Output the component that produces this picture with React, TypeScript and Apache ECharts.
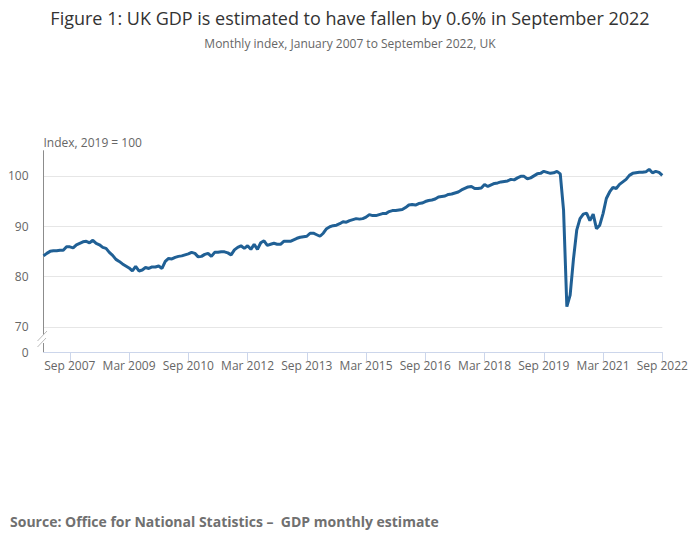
import React, { useEffect, useRef } from "react";
import * as echarts from "echarts";

const monthNames = ["Jan", "Feb", "Mar", "Apr", "May", "Jun", "Jul", "Aug", "Sep", "Oct", "Nov", "Dec"];
const startYear = 2007;

const gdp2007 = [84.1, 84.6, 85.0, 85.1, 85.1, 85.2, 85.2, 85.9, 85.9, 85.7, 86.3, 86.6];
const gdp2008 = [86.9, 87.0, 86.7, 87.2, 86.6, 86.3, 85.8, 85.6, 84.8, 84.2, 83.4, 83.0];
const gdp2009 = [82.5, 82.1, 81.7, 81.1, 82.0, 81.1, 81.3, 81.8, 81.6, 81.9, 81.9, 82.1];
const gdp2010 = [81.6, 83.0, 83.6, 83.5, 83.8, 84.0, 84.1, 84.3, 84.5, 84.8, 84.6, 83.9];
const gdp2011 = [84.0, 84.4, 84.6, 84.0, 84.8, 84.8, 84.9, 84.9, 84.7, 84.3, 85.3, 85.8];
const gdp2012 = [86.1, 85.6, 86.1, 85.4, 86.4, 85.4, 86.7, 87.1, 86.2, 86.4, 86.6, 86.4];
const gdp2013 = [86.4, 87.0, 87.0, 87.0, 87.3, 87.6, 87.8, 87.9, 88.0, 88.6, 88.6, 88.3];
const gdp2014 = [88.0, 88.6, 89.5, 89.9, 90.1, 90.2, 90.5, 90.9, 90.8, 91.1, 91.3, 91.5];
const gdp2015 = [91.4, 91.5, 91.8, 92.3, 92.1, 92.1, 92.3, 92.5, 92.5, 92.9, 93.1, 93.1];
const gdp2016 = [93.2, 93.3, 93.7, 94.2, 94.3, 94.2, 94.5, 94.6, 94.9, 95.1, 95.2, 95.4];
const gdp2017 = [95.8, 95.9, 96.0, 96.3, 96.4, 96.6, 96.8, 97.2, 97.5, 97.8, 97.9, 97.5];
const gdp2018 = [97.5, 97.6, 98.3, 97.9, 98.2, 98.5, 98.6, 98.8, 98.9, 99.0, 99.3, 99.2];
const gdp2019 = [99.6, 99.9, 99.9, 99.4, 99.6, 100.0, 100.4, 100.5, 100.9, 100.7, 100.5, 100.6];
const gdp2020 = [100.9, 100.4, 93.2, 74.0, 76.3, 83.4, 89.2, 91.5, 92.4, 92.6, 91.1, 92.4];
const gdp2021 = [89.5, 90.2, 92.5, 95.5, 96.8, 97.7, 97.5, 98.3, 98.8, 99.3, 100.1, 100.5];
const gdp2022 = [100.6, 100.7, 100.7, 100.8, 101.3, 100.6, 100.9, 100.7, 100.1];

const gdpValues = [
  ...gdp2007, ...gdp2008, ...gdp2009, ...gdp2010, ...gdp2011, ...gdp2012, ...gdp2013, ...gdp2014,
  ...gdp2015, ...gdp2016, ...gdp2017, ...gdp2018, ...gdp2019, ...gdp2020, ...gdp2021, ...gdp2022,
];

const categories = gdpValues.map((_, i) => `${monthNames[i % 12]} ${startYear + Math.floor(i / 12)}`);

const yTickLabels = [70, 80, 90, 100];
const yBrokenMin = 65; // shown as "0" below the axis break

const titleText = "Figure 1: UK GDP is estimated to have fallen by 0.6% in September 2022";
const subtitleText = "Monthly index, January 2007 to September 2022, UK";
const sourceText = "Source: Office for National Statistics \u2013  GDP monthly estimate";
const yAxisName = "Index, 2019 = 100";

const FONT = "'Open Sans', 'Noto Sans', sans-serif";

export default function App() {
  const ref = useRef<HTMLDivElement>(null);

  useEffect(() => {
    document.body.style.margin = "0";
    if (!ref.current) return;
    const chart = echarts.init(ref.current, null, { renderer: "svg" });
    const showTick = (i: number) => i % 18 === 8;
    chart.setOption({
      animation: false,
      backgroundColor: "#ffffff",
      textStyle: { fontFamily: FONT },
      title: [
        {
          text: titleText,
          left: "center",
          top: 4,
          textStyle: { fontFamily: FONT, fontSize: 18, fontWeight: "normal", color: "#333333" },
        },
        {
          text: subtitleText,
          left: "center",
          top: 32,
          textStyle: { fontFamily: FONT, fontSize: 12, fontWeight: "normal", color: "#666666" },
        },
        {
          text: sourceText,
          left: 5,
          top: 509,
          textStyle: { fontFamily: FONT, fontSize: 14, fontWeight: "bold", color: "#707070" },
        },
      ],
      grid: { left: 43.5, right: 37.7, top: 150.7, bottom: 197, containLabel: false },
      xAxis: {
        type: "category",
        data: categories,
        boundaryGap: false,
        axisLine: { onZero: false, lineStyle: { color: "#ccd6eb", width: 1 } },
        axisTick: { show: true, interval: showTick, length: 9, lineStyle: { color: "#ccd6eb" } },
        axisLabel: {
          interval: showTick,
          color: "#666666",
          fontSize: 12,
          fontFamily: FONT,
          margin: 7,
        },
        splitLine: { show: false },
      },
      yAxis: {
        type: "value",
        min: yBrokenMin,
        max: 105,
        interval: 5,
        name: yAxisName,
        nameLocation: "end",
        nameGap: 2,
        nameTextStyle: { color: "#666666", fontSize: 12, fontFamily: FONT, align: "left", padding: [0, 0, 0, 0] },
        axisLine: { show: true, lineStyle: { color: "#8c8c8c", width: 1 } },
        axisTick: { show: false },
        axisLabel: {
          color: "#666666",
          fontSize: 12,
          fontFamily: FONT,
          margin: 15,
          formatter: (v: number) =>
            v === yBrokenMin ? "0" : yTickLabels.includes(v) ? String(v) : "",
        },
        splitLine: {
          show: true,
          lineStyle: { color: ["rgba(0,0,0,0)", "#e6e6e6"], width: 1 },
        },
      },
      graphic: [
        { type: "rect", shape: { x: 40, y: 335, width: 6, height: 8 }, style: { fill: "#ffffff" }, z: 100 },
        { type: "line", shape: { x1: 37.5, y1: 341, x2: 47, y2: 331 }, style: { stroke: "#bbbbbb", lineWidth: 1 }, z: 101 },
        { type: "line", shape: { x1: 37.5, y1: 347, x2: 46, y2: 338 }, style: { stroke: "#bbbbbb", lineWidth: 1 }, z: 101 },
      ],
      series: [
        {
          type: "line",
          data: gdpValues,
          symbol: "none",
          lineStyle: { color: "#206095", width: 3 },
          itemStyle: { color: "#206095" },
          z: 3,
        },
      ],
    });
    return () => chart.dispose();
  }, []);

  return <div ref={ref} style={{ width: 700, height: 549, position: "absolute", left: 0, top: 0 }} />;
}
